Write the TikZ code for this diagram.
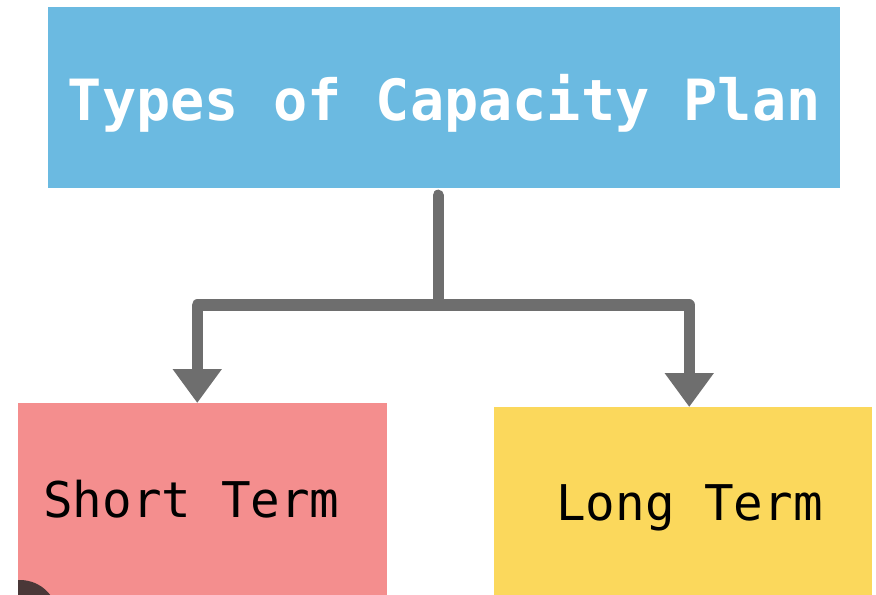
\documentclass[tikz,border=0pt]{standalone}
\usepackage{fontspec}
\setmonofont{DejaVu Sans Mono}
\usetikzlibrary{arrows.meta}
\definecolor{planblue}{HTML}{6BBAE1}
\definecolor{shortpink}{HTML}{F48E8E}
\definecolor{longyellow}{HTML}{FBD85C}
\definecolor{linkgray}{HTML}{6E6E6E}
\definecolor{dotbrown}{HTML}{4A3838}

\begin{document}
\begin{tikzpicture}[x=0.03cm,y=-0.03cm,
  box/.style={rectangle,inner sep=0pt,anchor=north west},
  link/.style={draw=linkgray,line width=9.4pt,line join=round,line cap=round},
  head/.style={-{Triangle[width=1.41cm,length=1.02cm]}},
  boxtext/.style={anchor=base,font=\ttfamily\fontsize{42}{50}\selectfont}]
\useasboundingbox (0,0) rectangle (876,595);
%boxes
\node[box,fill=planblue,minimum width=23.76cm,minimum height=5.43cm,text depth=0pt,
  text=white,font=\ttfamily\bfseries\fontsize{48.5}{58}\selectfont] (plan) at (48,7) {Types of Capacity Plan};
\node[box,fill=shortpink,minimum width=11.07cm,minimum height=5.76cm] (short) at (18,403) {};
\node[box,fill=longyellow,minimum width=11.34cm,minimum height=5.64cm] (long) at (494,407) {};
\node[boxtext] (shortlabel) at (191.5,517) {Short Term};
\node[boxtext] (longlabel) at (689.5,520) {Long Term};
%corner dot
\begin{scope}
\clip (18,0) rectangle (876,595);
\fill[dotbrown] (20,618) circle (38);
\end{scope}
%links
\coordinate (split) at (438,305);
\draw[link] ([yshift=-0.2cm]plan.south -| split) -- (split);
\draw[link,head] (split) -| ([xshift=-0.165cm]short.north);
\draw[link,head] (split) -| ([xshift=0.18cm]long.north);
\end{tikzpicture}
\end{document}
